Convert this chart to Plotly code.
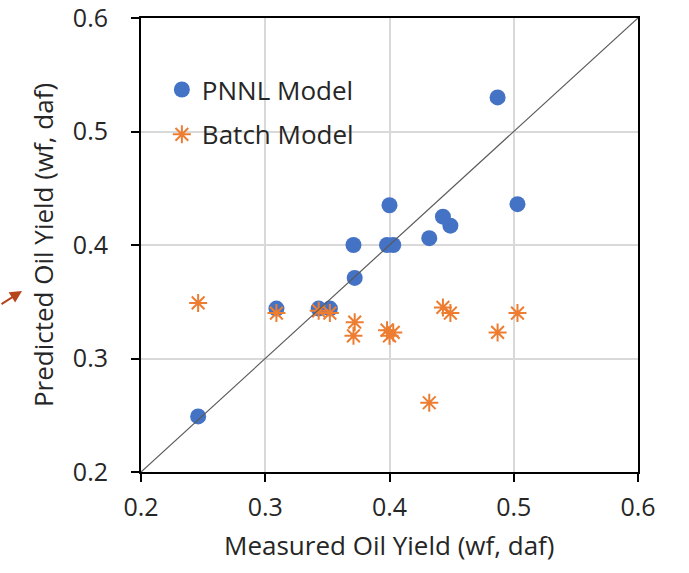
import plotly.graph_objects as go

# Measured oil yield (wf, daf) for each run
measured = [0.246, 0.309, 0.343, 0.352, 0.371, 0.372, 0.400, 0.398, 0.403,
            0.432, 0.443, 0.449, 0.487, 0.503]
# Predicted by PNNL model
pnnl_pred = [0.249, 0.344, 0.344, 0.344, 0.400, 0.371, 0.435, 0.400, 0.400,
             0.406, 0.425, 0.417, 0.530, 0.436]
# Predicted by Batch model
batch_pred = [0.349, 0.340, 0.342, 0.340, 0.320, 0.332, 0.320, 0.325, 0.323,
              0.261, 0.345, 0.340, 0.323, 0.340]
# Parity line
parity = [0.2, 0.6]

axis_range = [0.2, 0.6]
tick_vals = [0.2, 0.3, 0.4, 0.5, 0.6]
tick_text = ["0.2", "0.3", "0.4", "0.5", "0.6"]
x_title = "Measured Oil Yield (wf, daf)"
y_title = "Predicted Oil Yield (wf, daf)"

FONT = "Open Sans"
FSIZE = 25
LSIZE = 26
TSIZE = 26
TXT = "#262626"
BLUE = "#4472C4"
ORANGE = "#ED7D31"

fig = go.Figure()
fig.add_trace(go.Scatter(
    x=measured, y=pnnl_pred, mode="markers", name="PNNL Model",
    legendgroup="a",
    marker=dict(symbol="circle", size=16, color=BLUE, line=dict(width=0)),
))
fig.add_trace(go.Scatter(
    x=measured, y=batch_pred, mode="markers", name="Batch Model",
    legendgroup="b",
    marker=dict(symbol="asterisk-open", size=15, color=ORANGE,
                line=dict(width=2, color=ORANGE)),
))
fig.add_trace(go.Scatter(
    x=parity, y=parity, mode="lines", showlegend=False,
    line=dict(color="#595959", width=1.2),
))

axis_common = dict(
    range=axis_range, tickvals=tick_vals, ticktext=tick_text,
    showgrid=True, gridcolor="#D9D9D9", gridwidth=2,
    showline=True, linecolor="black", linewidth=2, mirror=True,
    ticks="outside", ticklen=8, tickwidth=2, tickcolor="black",
    zeroline=False, automargin=False, ticklabeloverflow="allow",
    tickfont=dict(family=FONT, size=FSIZE, color=TXT),
)

fig.update_xaxes(**axis_common, ticklabelstandoff=4)
fig.update_yaxes(
    **axis_common,
    title=dict(text=y_title,
               font=dict(family=FONT, size=TSIZE, color=TXT), standoff=12),
    ticklabelstandoff=18,
)

# x-axis title placed as annotation for exact vertical position
fig.add_annotation(
    xref="paper", yref="paper", x=0.5, y=-0.1608,
    xanchor="center", yanchor="middle", showarrow=False,
    text=x_title, font=dict(family=FONT, size=TSIZE, color=TXT),
)

fig.add_annotation(
    xref="paper", yref="paper", x=-0.2394, y=0.3987,
    ax=-24, ay=14, text="", showarrow=True,
    arrowhead=2, arrowsize=1.2, arrowwidth=2, arrowcolor="#B5451B",
)

fig.update_layout(
    width=689, height=573,
    margin=dict(l=141, r=51, t=18, b=101),
    paper_bgcolor="white", plot_bgcolor="white",
    showlegend=True,
    legend=dict(x=0.042, y=0.894, xanchor="left", yanchor="top",
                bgcolor="rgba(0,0,0,0)", tracegroupgap=8,
                font=dict(family=FONT, size=LSIZE, color=TXT)),
)

fig.write_html(
    "out.html",
    config={"displayModeBar": False},
    post_script="document.body.style.margin='0';document.body.style.overflow='hidden';",
)
